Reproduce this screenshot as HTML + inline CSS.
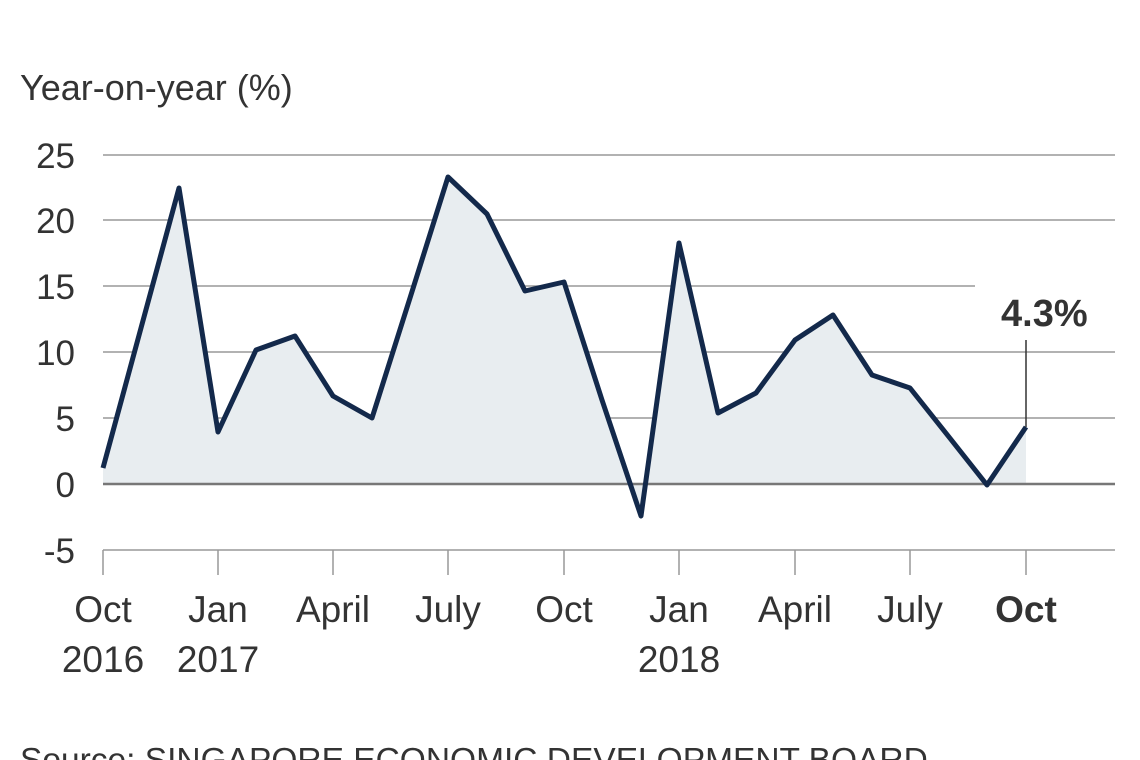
<!DOCTYPE html>
<html><head><meta charset="utf-8"><style>
html,body{margin:0;padding:0;background:#fff;width:1140px;height:760px;overflow:hidden}
svg{display:block}
text{font-family:"Liberation Sans",sans-serif;fill:#333}
</style></head><body>
<svg width="1140" height="760" viewBox="0 0 1140 760">
<text x="20" y="100" font-size="36">Year-on-year (%)</text>
<g stroke="#999" stroke-width="1.5">
<line x1="103" y1="155" x2="1115" y2="155"/>
<line x1="103" y1="220" x2="1115" y2="220"/>
<line x1="103" y1="286" x2="975" y2="286"/>
<line x1="103" y1="352" x2="1115" y2="352"/>
<line x1="103" y1="418" x2="1115" y2="418"/>
<line x1="103" y1="550" x2="1115" y2="550"/>
</g>
<g stroke="#999" stroke-width="1.5">
<line x1="103" y1="550" x2="103" y2="575"/><line x1="218" y1="550" x2="218" y2="575"/>
<line x1="333" y1="550" x2="333" y2="575"/><line x1="448" y1="550" x2="448" y2="575"/>
<line x1="564" y1="550" x2="564" y2="575"/><line x1="679" y1="550" x2="679" y2="575"/>
<line x1="795" y1="550" x2="795" y2="575"/><line x1="910" y1="550" x2="910" y2="575"/>
<line x1="1026" y1="550" x2="1026" y2="575"/>
</g>
<polygon fill="#e8edf0" points="103,484 103,468 141,328 179,188 218,432 256,350 295,336 333,396 372,418 410,298 448,177 487,214 525,291 564,282 602,400 641,516 679,243 718,413 756,393 795,340 833,315 872,375 910,388 949,437 987,485 1026,427 1026,484"/>
<line x1="103" y1="484" x2="1115" y2="484" stroke="#777" stroke-width="2.5"/>
<polyline fill="none" stroke="#13294b" stroke-width="5" stroke-linejoin="round" points="103,468 141,328 179,188 218,432 256,350 295,336 333,396 372,418 410,298 448,177 487,214 525,291 564,282 602,400 641,516 679,243 718,413 756,393 795,340 833,315 872,375 910,388 949,437 987,485 1026,427"/>
<line x1="1026" y1="340" x2="1026" y2="427" stroke="#333" stroke-width="1.5"/>
<text x="1001" y="326" font-size="38" font-weight="bold">4.3%</text>
<g font-size="35" text-anchor="end">
<text x="75" y="168">25</text><text x="75" y="233">20</text><text x="75" y="299">15</text>
<text x="75" y="365">10</text><text x="75" y="431">5</text><text x="75" y="497">0</text><text x="75" y="563">-5</text>
</g>
<g font-size="37" text-anchor="middle">
<text x="103" y="622">Oct</text><text x="103" y="672">2016</text>
<text x="218" y="622">Jan</text><text x="218" y="672">2017</text>
<text x="333" y="622">April</text><text x="448" y="622">July</text><text x="564" y="622">Oct</text>
<text x="679" y="622">Jan</text><text x="679" y="672">2018</text>
<text x="795" y="622">April</text><text x="910" y="622">July</text>
<text x="1026" y="622" font-weight="bold">Oct</text>
</g>
<text x="20" y="771" font-size="33.5">Source: SINGAPORE ECONOMIC DEVELOPMENT BOARD</text>
</svg>
</body></html>
